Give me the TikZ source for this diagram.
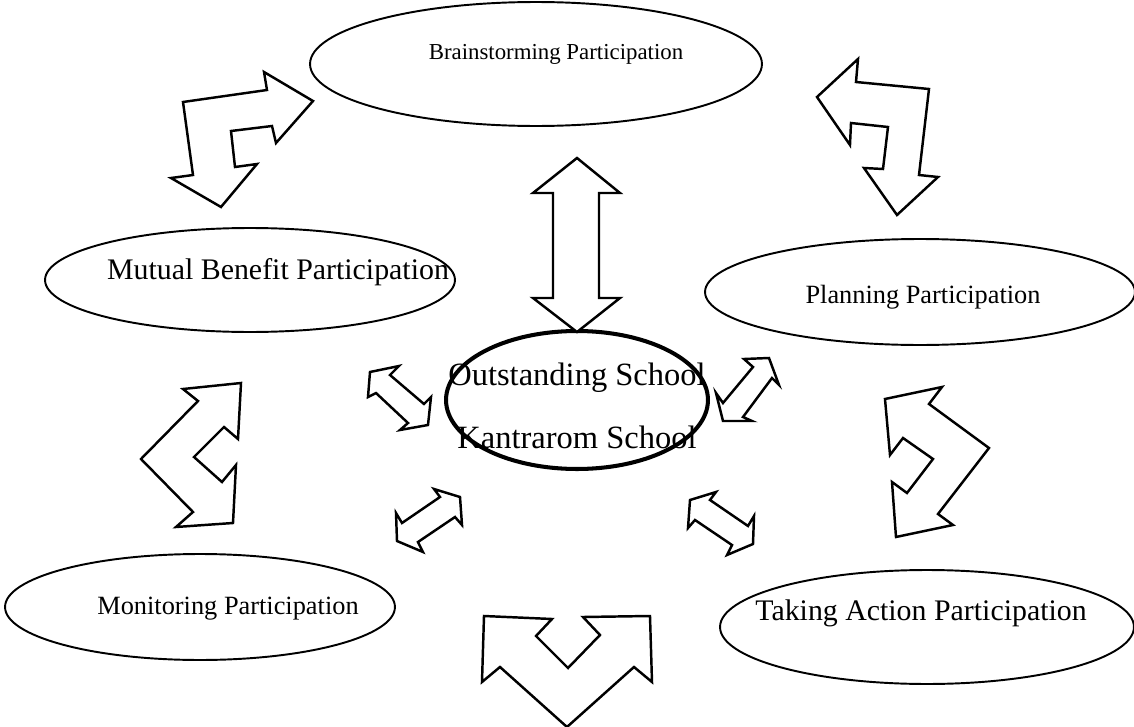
\documentclass[tikz,border=0pt]{standalone}
\usepackage{fontspec}
\setmainfont{Liberation Serif}
\usetikzlibrary{shapes.geometric}

\begin{document}
\begin{tikzpicture}[x=0.02cm,y=-0.02cm,
oval/.style={draw, ellipse, line width=1.1pt, inner sep=0pt},
label text/.style={font=\fontsize{15}{18}\selectfont, inner sep=0pt},
block arrow/.style={draw, line width=1.4pt, line join=miter, fill=white}]
\useasboundingbox (0,0) rectangle (1134,727);

\node (Brain) [oval, minimum width=9.04cm, minimum height=2.48cm] at (536,64) {};
\node (Mutual) [oval, minimum width=8.2cm, minimum height=2.08cm] at (250,280) {};
\node (Plan) [oval, minimum width=8.6cm, minimum height=2.12cm] at (920,292) {};
\node (Centre) [oval, line width=2.3pt, minimum width=5.24cm, minimum height=2.76cm] at (577,400) {};
\node (Monitor) [oval, minimum width=7.8cm, minimum height=2.12cm] at (200,607) {};
\node (Action) [oval, minimum width=8.28cm, minimum height=2.28cm] at (927,627) {};

\node (BrainText) [label text, font=\fontsize{13}{16}\selectfont] at (556,54) {Brainstorming Participation};
\node (MutualText) [label text, font=\fontsize{17}{20}\selectfont] at (278,272) {Mutual Benefit Participation};
\node (PlanText) [label text] at (923,297) {Planning Participation};
\node (MonitorText) [label text] at (228,609) {Monitoring Participation};
\node (ActionText) [label text, font=\fontsize{17}{20}\selectfont] at (921,613) {Taking Action Participation};
\node (CentreTop) [label text, font=\fontsize{18.5}{22}\selectfont] at (577,378) {Outstanding School};
\node (CentreBottom) [label text, font=\fontsize{18.5}{22}\selectfont] at (577,437) {Kantrarom School};

\draw[block arrow] (313,101) -- (264,72) -- (267,90) -- (183,102) -- (193,175) -- (171,178) -- (221,207) -- (257,164) -- (235,167) -- (231,131) -- (272,126) -- (276,143) -- cycle;
\draw[block arrow] (817,97) -- (858,59) -- (856,82) -- (929,89) -- (919,175) -- (938,177) -- (897,215) -- (864,168) -- (883,169) -- (888,127) -- (851,123) -- (850,145) -- cycle;
\draw[block arrow] (577,158) -- (620,193) -- (599,193) -- (599,298) -- (620,298) -- (577,332) -- (533,298) -- (553,298) -- (553,193) -- (533,193) -- cycle;
\draw[block arrow] (183,389) -- (241,383) -- (238,439) -- (224,427) -- (194,457) -- (222,482) -- (236,465) -- (233,523) -- (176,527) -- (193,512) -- (141,459) -- (198,401) -- cycle;
\draw[block arrow] (885,399) -- (942,387) -- (929,404) -- (989,448) -- (938,514) -- (953,525) -- (896,537) -- (892,482) -- (907,493) -- (933,459) -- (903,438) -- (890,455) -- cycle;
\draw[block arrow] (567,727) -- (634,667) -- (652,682) -- (650,616) -- (583,617) -- (600,635) -- (568,668) -- (536,636) -- (552,619) -- (484,616) -- (482,682) -- (500,667) -- cycle;

\draw[block arrow] (370,372) -- (399,366) -- (390,375) -- (424,404) -- (431,397) -- (428,425) -- (400,430) -- (408,423) -- (376,393) -- (368,397) -- cycle;
\draw[block arrow] (744,359) -- (769,358) -- (779,385) -- (772,378) -- (743,417) -- (752,421) -- (723,421) -- (716,393) -- (723,403) -- (753,367) -- cycle;
\draw[block arrow] (434,489) -- (460,497) -- (462,525) -- (455,517) -- (418,542) -- (423,552) -- (397,541) -- (396,513) -- (402,523) -- (440,497) -- cycle;
\draw[block arrow] (716,492) -- (690,500) -- (688,528) -- (695,520) -- (732,545) -- (727,555) -- (753,544) -- (754,516) -- (748,526) -- (710,500) -- cycle;
\end{tikzpicture}
\end{document}
